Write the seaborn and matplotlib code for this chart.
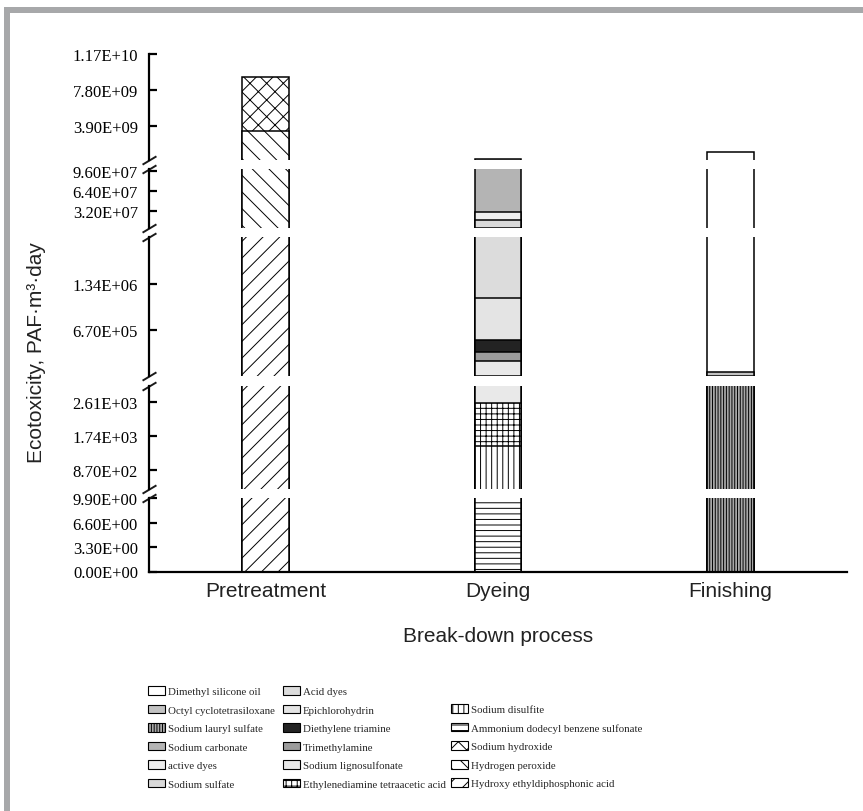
import numpy as np
import matplotlib
matplotlib.use("Agg")
import matplotlib.pyplot as plt
import seaborn as sns
from matplotlib.patches import Patch, Rectangle

processes = ["Pretreatment", "Dyeing", "Finishing"]

# components of each bar, bottom -> top, with the ecotoxicity of each part
pre_parts = ["Hydroxy ethyldiphosphonic acid", "Hydrogen peroxide", "Sodium hydroxide"]
pre_values = [2.5e6, 3.29e9, 5.93e9]

dye_parts = ["Ammonium dodecyl benzene sulfonate", "Sodium disulfite",
             "Ethylenediamine tetraacetic acid", "Sodium lignosulfonate",
             "Trimethylamine", "Diethylene triamine", "Epichlorohydrin",
             "Acid dyes", "Sodium sulfate", "active dyes", "Sodium carbonate"]
dye_values = [100, 1370, 1110, 2.27e5, 1.2e5, 1.81e5, 6.08e5, 3.36e6, 1.26e7, 1.33e7, 2.4e8]

fin_parts = ["Sodium lauryl sulfate", "Octyl cyclotetrasiloxane", "Dimethyl silicone oil"]
fin_values = [1.5e4, 5.5e4, 1.07e9]

legend_col1 = ["Dimethyl silicone oil", "Octyl cyclotetrasiloxane", "Sodium lauryl sulfate",
               "Sodium carbonate", "active dyes", "Sodium sulfate"]
legend_col2 = ["Acid dyes", "Epichlorohydrin", "Diethylene triamine", "Trimethylamine",
               "Sodium lignosulfonate", "Ethylenediamine tetraacetic acid"]
legend_col3 = ["Sodium disulfite", "Ammonium dodecyl benzene sulfonate", "Sodium hydroxide",
               "Hydrogen peroxide", "Hydroxy ethyldiphosphonic acid"]

# broken y axis: tick values shown in each piece, top -> bottom
ticks_p1 = [3.9e9, 7.8e9, 1.17e10]
ticks_p2 = [3.2e7, 6.4e7, 9.6e7]
ticks_p3 = [6.7e5, 1.34e6]
ticks_p4 = [870, 1740, 2610]
ticks_p5 = [0, 3.3, 6.6, 9.9]

styles = {
    "Dimethyl silicone oil": ("white", ""),
    "Octyl cyclotetrasiloxane": ("#c2c2c2", ""),
    "Sodium lauryl sulfate": ("#a8a8a8", "||||||"),
    "Sodium carbonate": ("#b4b4b4", ""),
    "active dyes": ("#ededed", ""),
    "Sodium sulfate": ("#d9d9d9", ""),
    "Acid dyes": ("#dcdcdc", ""),
    "Epichlorohydrin": ("#e4e4e4", ""),
    "Diethylene triamine": ("#232323", ""),
    "Trimethylamine": ("#9c9c9c", ""),
    "Sodium lignosulfonate": ("#e9e9e9", ""),
    "Ethylenediamine tetraacetic acid": ("white", "+++"),
    "Sodium disulfite": ("white", "|||"),
    "Ammonium dodecyl benzene sulfonate": ("white", "---"),
    "Sodium hydroxide": ("white", "xx"),
    "Hydrogen peroxide": ("white", "\\\\"),
    "Hydroxy ethyldiphosphonic acid": ("white", "//"),
}

sns.set_theme(style="white")
plt.rcParams["font.family"] = ["Liberation Sans", "DejaVu Sans"]
plt.rcParams["hatch.linewidth"] = 0.7

W, H = 863, 812
fig = plt.figure(figsize=(W / 100, H / 100), dpi=100)

# panel placement in pixels (top, bottom) and y-range of each piece
panels = [
    (55, 160.7, (1.96e8, 1.17e10), ticks_p1),
    (170, 229.3, (3.8e6, 9.87e7), ticks_p2),
    (238, 377.3, (5e3, 2.01e6), ticks_p3),
    (386.7, 490, (380, 3020), ticks_p4),
    (499.3, 572.5, (0, 9.9), ticks_p5),
]
x0, x1 = 149, 847

bars = [("Pretreatment", pre_parts, pre_values),
        ("Dyeing", dye_parts, dye_values),
        ("Finishing", fin_parts, fin_values)]

axes = []
for i, (top, bot, ylim, ticks) in enumerate(panels):
    ax = fig.add_axes([x0 / W, 1 - bot / H, (x1 - x0) / W, (bot - top) / H])
    for proc, parts, vals in bars:
        tops = np.cumsum(vals)
        # draw tallest first so lower segments sit on top of it
        for name, t in reversed(list(zip(parts, tops))):
            fc, h = styles[name]
            sns.barplot(x=[proc], y=[t], order=processes, color=fc, saturation=1,
                        width=0.2, edgecolor="black", linewidth=1.1, hatch=h,
                        errorbar=None, ax=ax)
    ax.set_xlim(-0.5, 2.5)
    ax.set_ylim(*ylim)
    ax.set_xlabel("")
    ax.set_ylabel("")
    ax.set_facecolor("none")
    for s in ["top", "right", "bottom"]:
        ax.spines[s].set_visible(False)
    ax.spines["left"].set_linewidth(1.6)
    ax.spines["left"].set_color("black")
    ax.set_yticks(ticks, labels=[f"{v:.2E}" for v in ticks],
                  fontfamily="Liberation Serif", fontsize=12)
    ax.tick_params(axis="y", direction="in", length=6, width=1.6, pad=8,
                   left=True, colors="black")
    if i < 4:
        ax.set_xticks([])
    else:
        ax.spines["bottom"].set_visible(True)
        ax.spines["bottom"].set_linewidth(1.6)
        ax.spines["bottom"].set_color("black")
        ax.set_xticks(range(3), labels=processes, fontsize=15, color="#222222")
        ax.tick_params(axis="x", length=0, pad=7)
    # break marks on the y axis
    kw = dict(marker=[(-1, -0.6), (1, 0.6)], markersize=10, linestyle="none",
              color="k", mec="k", mew=1.4, clip_on=False)
    if i > 0:
        ax.plot([0], [1], transform=ax.transAxes, **kw)
    if i < 4:
        ax.plot([0], [0], transform=ax.transAxes, **kw)
    axes.append(ax)

fig.text(498 / W, 1 - 637 / H, "Break-down process", ha="center", va="center",
         fontsize=15, color="#222222")
fig.text(37 / W, 1 - 353 / H, "Ecotoxicity, PAF·m³·day", ha="center", va="center",
         rotation=90, fontsize=15, color="#222222")

# legend in three columns
leg_kw = dict(loc="upper left", frameon=False,
              prop={"family": "Liberation Serif", "size": 7.8},
              handlelength=1.57, handleheight=0.85, handletextpad=0.25,
              labelspacing=0.78, borderpad=0, borderaxespad=0)
for names, lx, ly in [(legend_col1, 148, 687), (legend_col2, 283, 687), (legend_col3, 451, 705.3)]:
    handles = [Patch(facecolor=styles[n][0], edgecolor="black", hatch=styles[n][1],
                     linewidth=0.8, label=n) for n in names]
    fig.legend(handles=handles, bbox_to_anchor=(lx / W, 1 - ly / H), **leg_kw)

# grey frame of the page
fig.add_artist(Rectangle((4 / W, 0), 6 / W, (H - 8) / H, transform=fig.transFigure,
                         color="#a7a8aa", lw=0))
fig.add_artist(Rectangle((4 / W, 1 - 14 / H), 1 - 4 / W, 6 / H, transform=fig.transFigure,
                         color="#a7a8aa", lw=0))

fig.savefig("out.png", dpi=100)
